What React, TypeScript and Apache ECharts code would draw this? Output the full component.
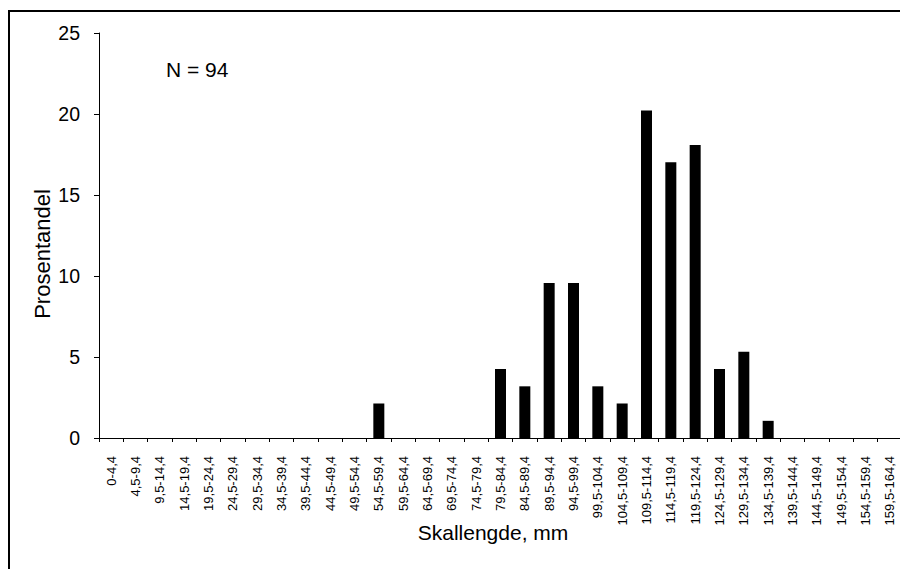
import React, { useRef, useEffect } from 'react';
import * as echarts from 'echarts';

const categories = [
  '0-4,4', '4,5-9,4', '9,5-14,4', '14,5-19,4', '19,5-24,4', '24,5-29,4',
  '29,5-34,4', '34,5-39,4', '39,5-44,4', '44,5-49,4', '49,5-54,4', '54,5-59,4',
  '59,5-64,4', '64,5-69,4', '69,5-74,4', '74,5-79,4', '79,5-84,4', '84,5-89,4',
  '89,5-94,4', '94,5-99,4', '99,5-104,4', '104,5-109,4', '109,5-114,4', '114,5-119,4',
  '119,5-124,4', '124,5-129,4', '129,5-134,4', '134,5-139,4', '139,5-144,4', '144,5-149,4',
  '149,5-154,4', '154,5-159,4', '159,5-164,4',
];

// prosentandel per lengdeklasse (N = 94)
const percentages = [
  0, 0, 0, 0, 0, 0,
  0, 0, 0, 0, 0, 2.13,
  0, 0, 0, 0, 4.26, 3.19,
  9.57, 9.57, 3.19, 2.13, 20.21, 17.02,
  18.09, 4.26, 5.32, 1.06, 0, 0,
  0, 0, 0,
];

const yTicks = [0, 5, 10, 15, 20, 25];

const FONT = '"Liberation Sans", Arial, sans-serif';

const App: React.FC = () => {
  const chartRef = useRef<HTMLDivElement>(null);

  useEffect(() => {
    if (!chartRef.current) return;
    const chart = echarts.init(chartRef.current, undefined, { renderer: 'svg' });

    const option: echarts.EChartsOption = {
      animation: false,
      backgroundColor: '#ffffff',
      grid: { left: 91, right: 6, top: 25, bottom: 131, containLabel: false },
      xAxis: {
        type: 'category',
        data: categories,
        boundaryGap: true,
        axisLine: { show: true, lineStyle: { color: '#000', width: 1 } },
        axisTick: { show: true, length: 4, alignWithLabel: false, lineStyle: { color: '#000' } },
        axisLabel: {
          interval: 0,
          rotate: 90,
          margin: 18,
          color: '#000',
          fontSize: 13,
          fontFamily: FONT,
        },
        splitLine: { show: false },
      },
      yAxis: {
        type: 'value',
        min: yTicks[0],
        max: yTicks[yTicks.length - 1],
        interval: 5,
        axisLine: { show: true, lineStyle: { color: '#000', width: 1 } },
        axisTick: { show: true, length: 5, lineStyle: { color: '#000' } },
        axisLabel: { margin: 19, color: '#000', fontSize: 19.5, fontFamily: FONT },
        splitLine: { show: false },
      },
      series: [
        {
          type: 'bar',
          data: percentages,
          barWidth: 11,
          itemStyle: { color: '#000' },
        },
      ],
      graphic: [
        {
          type: 'rect',
          shape: { x: 1, y: 3, width: 2000, height: 2000 },
          style: { fill: 'none', stroke: '#000', lineWidth: 2 },
          silent: true,
        },
        {
          type: 'text',
          x: 158,
          y: 61,
          style: {
            text: 'N = 94',
            fontSize: 21,
            fontFamily: FONT,
            fill: '#000',
            verticalAlign: 'middle',
          },
        },
        {
          type: 'text',
          x: 485,
          y: 524,
          style: {
            text: 'Skallengde, mm',
            fontSize: 21,
            fontFamily: FONT,
            fill: '#000',
            align: 'center',
            verticalAlign: 'middle',
          },
        },
        {
          type: 'text',
          x: 34,
          y: 246,
          rotation: Math.PI / 2,
          style: {
            text: 'Prosentandel',
            fontSize: 22,
            fontFamily: FONT,
            fill: '#000',
            align: 'center',
            verticalAlign: 'middle',
          },
        },
      ],
    };

    chart.setOption(option);
    return () => {
      chart.dispose();
    };
  }, []);

  return <div ref={chartRef} style={{ width: 900, height: 561 }} />;
};

export default App;
